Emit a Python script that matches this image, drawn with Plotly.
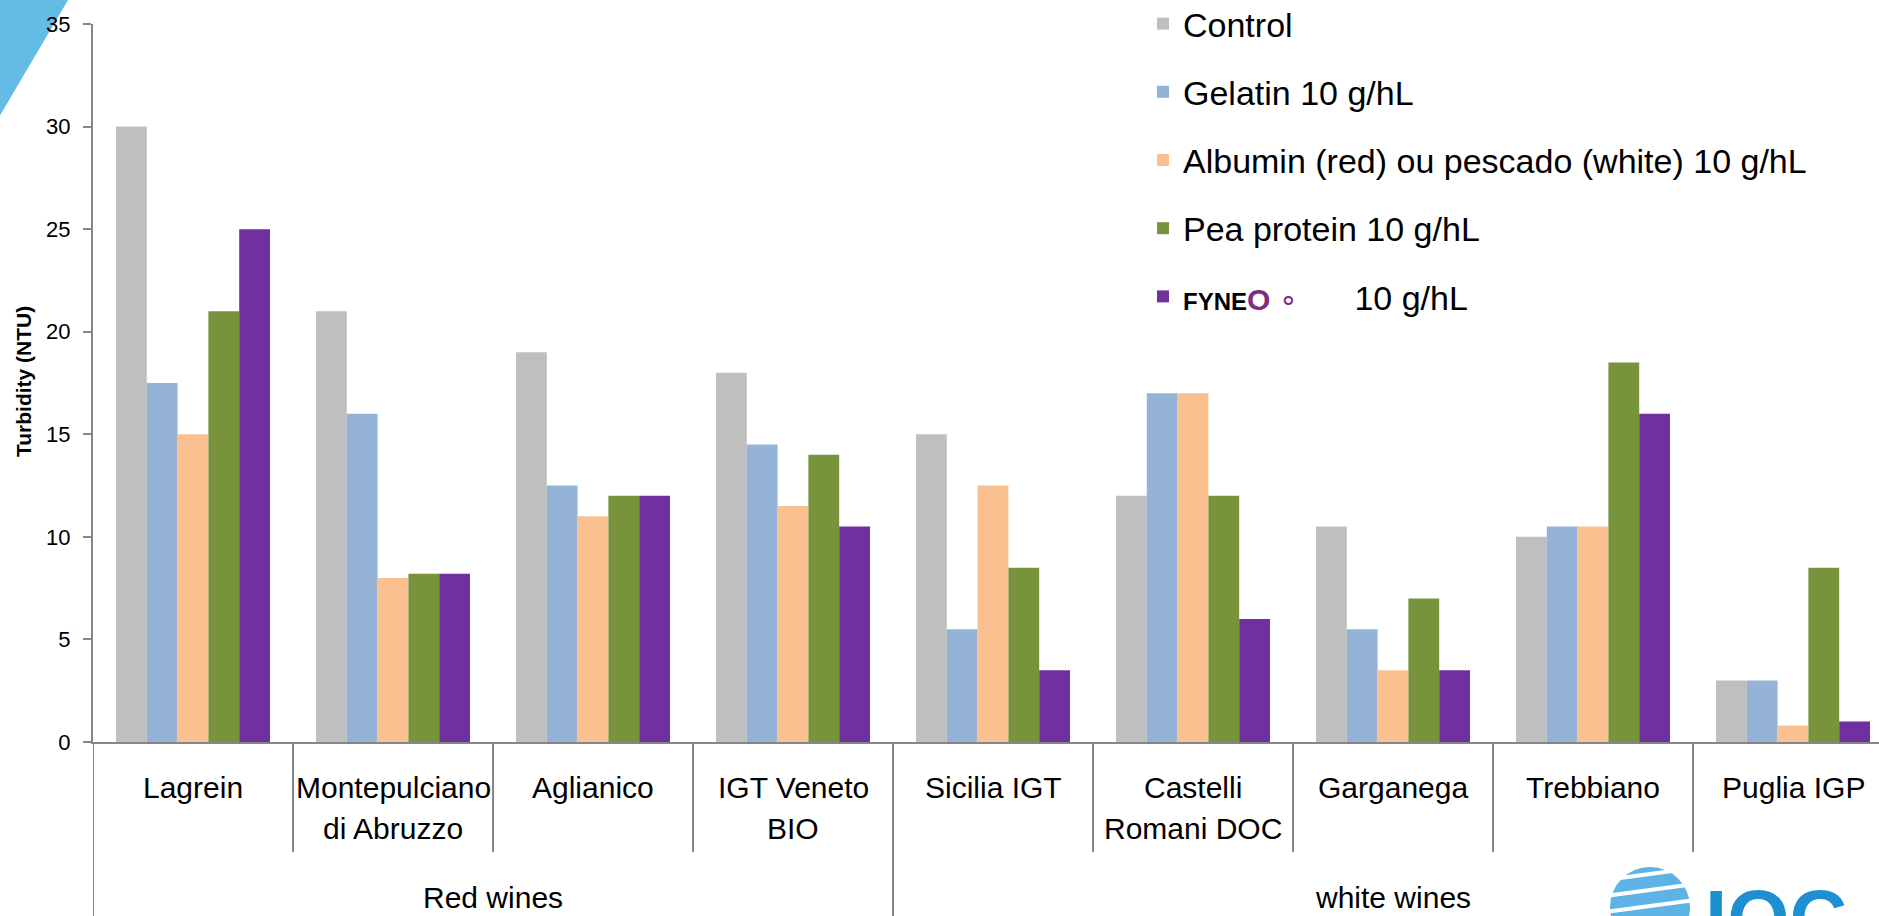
import plotly.graph_objects as go

# ---------------- data ----------------
wines = ["Lagrein", "Montepulciano di Abruzzo", "Aglianico", "IGT Veneto BIO",
         "Sicilia IGT", "Castelli Romani DOC", "Garganega", "Trebbiano", "Puglia IGP"]
wine_label_lines = [["Lagrein"], ["Montepulciano", "di Abruzzo"], ["Aglianico"],
                    ["IGT Veneto", "BIO"], ["Sicilia IGT"], ["Castelli", "Romani DOC"],
                    ["Garganega"], ["Trebbiano"], ["Puglia IGP"]]
wine_groups = ["Red wines", "white wines"]
group_sizes = [4, 5]

control = [30, 21, 19, 18, 15, 12, 10.5, 10, 3]
gelatin = [17.5, 16, 12.5, 14.5, 5.5, 17, 5.5, 10.5, 3]
albumin = [15, 8, 11, 11.5, 12.5, 17, 3.5, 10.5, 0.8]
pea = [21, 8.2, 12, 14, 8.5, 12, 7, 18.5, 8.5]
fyneo = [25, 8.2, 12, 10.5, 3.5, 6, 3.5, 16, 1]

series_names = [
    "Control",
    "Gelatin 10 g/hL",
    "Albumin (red) ou pescado (white) 10 g/hL",
    "Pea protein 10 g/hL",
    "<span style='font-weight:bold;font-size:24px'>FYNE</span>"
    "<span style='font-weight:bold;font-size:30px;color:#7B2C83'>O</span>"
    "<span style='font-size:30px;color:#7B2C83'> ∘</span>      10 g/hL",
]
series_values = [control, gelatin, albumin, pea, fyneo]
series_colors = ["#BFBFBF", "#95B3D7", "#FAC090", "#77933C", "#7030A0"]

y_ticks = [0, 5, 10, 15, 20, 25, 30, 35]
y_title = "Turbidity (NTU)"

# ---------------- layout constants ----------------
W, H = 1879, 916
ML, MT, MB = 93, 24, 174
PW = W - ML
PH = H - MT - MB
FONT = "Liberation Sans, Arial, sans-serif"
AXIS_COLOR = "#868686"


def px_x(px):
    return (px - ML) / PW


def px_y(py):
    return (H - MB - py) / PH


fig = go.Figure()
for name, vals, col in zip(series_names, series_values, series_colors):
    fig.add_trace(go.Bar(
        x=wines, y=vals, name=name, marker=dict(color=col, line=dict(width=0)),
        legendgroup=name,
    ))

annotations = []
# category labels
for wine, lines in zip(wines, wine_label_lines):
    for k, line in enumerate(lines):
        annotations.append(dict(
            x=wine, xref="x", y=px_y(787 + 41 * k), yref="paper",
            text=line, showarrow=False, xanchor="center", yanchor="middle",
            font=dict(family=FONT, size=30, color="black"),
        ))

# group labels and dividers
shapes = []
start = 0
for gname, gsize in zip(wine_groups, group_sizes):
    center = start + (gsize - 1) / 2
    annotations.append(dict(
        x=center, xref="x", y=px_y(897), yref="paper",
        text=gname, showarrow=False, xanchor="center", yanchor="middle",
        font=dict(family=FONT, size=30, color="black"),
    ))
    shapes.append(dict(type="line", xref="x", yref="paper",
                       x0=start - 0.5, x1=start - 0.5, y0=0, y1=px_y(H + 10),
                       line=dict(color=AXIS_COLOR, width=2)))
    for j in range(1, gsize):
        b = start + j - 0.5
        shapes.append(dict(type="line", xref="x", yref="paper",
                           x0=b, x1=b, y0=0, y1=px_y(852),
                           line=dict(color=AXIS_COLOR, width=2)))
    start += gsize

# y-axis title
annotations.append(dict(
    x=px_x(23), xref="paper", y=px_y(382), yref="paper", text="<b>" + y_title + "</b>",
    textangle=-90, showarrow=False, xanchor="center", yanchor="middle",
    font=dict(family=FONT, size=21, color="black"),
))

# IOC logo (partial, bottom right)
annotations.append(dict(
    x=px_x(1776), xref="paper", y=px_y(872), yref="paper", text="<b>IOC</b>",
    showarrow=False, xanchor="center", yanchor="top",
    font=dict(family=FONT, size=80, color="#1E90D2"),
))
shapes.append(dict(type="circle", xref="paper", yref="paper",
                   x0=px_x(1610), x1=px_x(1690), y0=px_y(947), y1=px_y(867),
                   fillcolor="#5DB3E4", line=dict(width=0), layer="above"))
for off in (0, 16, 32):
    shapes.append(dict(type="line", xref="paper", yref="paper",
                       x0=px_x(1605), y0=px_y(880 + off), x1=px_x(1695), y1=px_y(868 + off),
                       line=dict(color="white", width=4), layer="above"))

# decorative blue triangle top-left
shapes.append(dict(
    type="path", xref="paper", yref="paper",
    path="M {} {} L {} {} L {} {} Z".format(px_x(-5), px_y(-5), px_x(71), px_y(-5),
                                            px_x(-5), px_y(124)),
    fillcolor="#63BCE6", line=dict(width=0), layer="below",
))

fig.update_layout(
    width=W, height=H,
    margin=dict(l=ML, r=0, t=MT, b=MB, autoexpand=False),
    paper_bgcolor="white", plot_bgcolor="white",
    barmode="group", bargap=0.23, bargroupgap=0,
    showlegend=True,
    legend=dict(
        x=px_x(1143), y=px_y(-5), xanchor="left", yanchor="top",
        font=dict(family=FONT, size=34, color="black"),
        bgcolor="rgba(0,0,0,0)", tracegroupgap=21, traceorder="grouped",
    ),
    xaxis=dict(
        type="category", range=[-0.5, -0.5 + PW / 200.0],
        showline=True, linecolor=AXIS_COLOR, linewidth=2,
        showticklabels=False, ticks="", showgrid=False, zeroline=False,
    ),
    yaxis=dict(
        range=[0, 35], tickvals=y_ticks, ticktext=[str(t) for t in y_ticks],
        showline=True, linecolor=AXIS_COLOR, linewidth=2,
        ticks="outside", ticklen=8, tickwidth=2, tickcolor=AXIS_COLOR,
        ticklabelstandoff=8,
        tickfont=dict(family=FONT, size=22, color="black"),
        showgrid=False, zeroline=False,
    ),
    annotations=annotations,
    shapes=shapes,
)

fig.write_html("out.html")
